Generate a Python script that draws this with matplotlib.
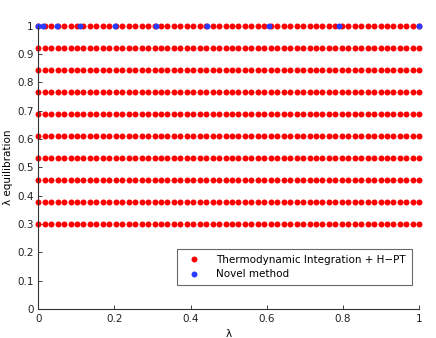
import numpy as np
import matplotlib.pyplot as plt

# data
lambda_grid = np.linspace(0, 1, 60)           # red points along lambda
lambda_eq_levels = np.linspace(0.3, 1.0, 10)  # equilibration rows
novel_lambda = [0, 0.013, 0.048, 0.109, 0.201, 0.308, 0.442, 0.606, 0.79, 1.0]
novel_eq = [1.0] * len(novel_lambda)

red = '#ff0000'
blue = '#2a3cff'

fig = plt.figure(figsize=(4.36, 3.38), dpi=100)
ax = fig.add_axes([0.0878, 0.0858, 0.8739, 0.8382])

X, Y = np.meshgrid(lambda_grid, lambda_eq_levels)
ax.plot(X.ravel(), Y.ravel(), 'o', color=red, markersize=4.3, markeredgewidth=0,
        linestyle='none', label='Thermodynamic Integration + H\u2212PT', clip_on=False)
ax.plot(novel_lambda, novel_eq, 'o', color=blue, markersize=4.3, markeredgewidth=0,
        linestyle='none', label='Novel method', clip_on=False)

ax.set_xlim(0, 1)
ax.set_ylim(0, 1)
ax.set_xticks(np.arange(0, 1.01, 0.2))
ax.set_yticks(np.arange(0, 1.01, 0.1))
ax.set_xticklabels(['0', '0.2', '0.4', '0.6', '0.8', '1'])
ax.set_yticklabels(['0', '0.1', '0.2', '0.3', '0.4', '0.5', '0.6', '0.7', '0.8', '0.9', '1'])
ax.tick_params(direction='in', length=3, labelsize=7.5, width=0.6, colors='#222222')
for s in ('top', 'right'):
    ax.spines[s].set_visible(False)
for s in ('left', 'bottom'):
    ax.spines[s].set_linewidth(0.8)
    ax.spines[s].set_color('#333333')

ax.set_xlabel('\u03bb', fontsize=7.5, labelpad=4)
ax.set_ylabel('\u03bb equilibration', fontsize=7.5, labelpad=3)

leg = ax.legend(loc='lower right', bbox_to_anchor=(0.98, 0.085), fontsize=7.5,
                frameon=True, fancybox=False, handletextpad=1.0, borderpad=0.55,
                labelspacing=0.4, handlelength=2.2, borderaxespad=0)
leg.get_frame().set_edgecolor('#444444')
leg.get_frame().set_linewidth(0.8)

fig.savefig('out.png', dpi=100)
